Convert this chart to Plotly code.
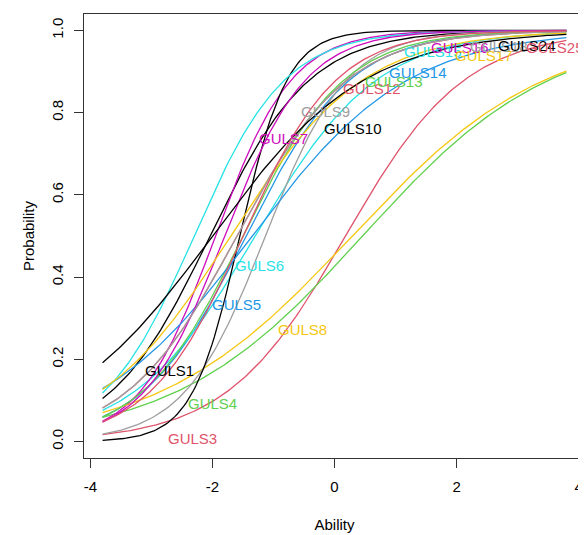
import numpy as np
import plotly.graph_objects as go

# Item names (in plotting order) and their colours (R 4 default palette, cycled)
items = ["GULS1", "GULS3", "GULS4", "GULS5", "GULS6", "GULS7", "GULS8", "GULS9",
         "GULS10", "GULS12", "GULS13", "GULS14", "GULS15", "GULS16", "GULS17",
         "GULS18", "GULS24", "GULS25"]
palette = ["#000000", "#DF536B", "#61D04F", "#2297E6", "#28E2E5", "#CD0BBC",
           "#F5C710", "#9E9E9E"]

# 2PL item parameters: discrimination and difficulty
discrimination = [1.22, 1.02, 0.65, 1.17, 1.00, 1.60, 0.63, 1.50,
                  2.57, 1.10, 1.20, 0.78, 1.34, 1.50, 0.92, 1.10, 0.80, 1.30]
difficulty = [-2.04, 0.18, 0.46, -1.45, -1.30, -1.95, 0.29, -1.13,
              -1.55, -1.60, -1.50, -1.35, -2.30, -1.80, -1.70, -1.60, -2.00, -1.50]

# Item label positions (ability, probability) as placed on the chart
label_x = [-2.71, -2.33, -2.00, -1.60, -1.23, -0.84, -0.53, -0.15,
           0.30, 0.62, 0.98, 1.36, 1.62, 2.06, 2.45, 2.70, 3.15, 3.62]
label_y = [0.174, 0.008, 0.093, 0.333, 0.429, 0.738, 0.272, 0.804,
           0.762, 0.858, 0.876, 0.897, 0.950, 0.958, 0.940, 0.960, 0.963, 0.958]

ability = np.linspace(-3.8, 3.8, 200)

FONT = "Liberation Sans, Arial, Helvetica, sans-serif"

fig = go.Figure()
for i, name in enumerate(items):
    col = palette[i % len(palette)]
    p = 1.0 / (1.0 + np.exp(-discrimination[i] * (ability - difficulty[i])))
    fig.add_trace(go.Scatter(x=ability, y=p, mode="lines", name=name,
                             line=dict(color=col, width=1.3),
                             hoverinfo="name"))
    fig.add_annotation(x=label_x[i], y=label_y[i], text=name, showarrow=False,
                       font=dict(family=FONT, size=15, color=col),
                       xanchor="center", yanchor="middle")

# page body has an 8px default margin, so the figure is sized to fill the rest
fig.update_layout(
    width=578, height=527,
    margin=dict(l=76, r=1, t=5.5, b=76.5, autoexpand=False),
    paper_bgcolor="white", plot_bgcolor="white",
    showlegend=False,
    font=dict(family=FONT, size=15, color="#000000"),
    xaxis=dict(range=[-4.104, 4.104], tickvals=[-4, -2, 0, 2, 4],
               ticktext=["-4", "-2", "0", "2", "4"], automargin=False,
               showgrid=False, zeroline=False, showline=True, mirror=True,
               linecolor="#333333", linewidth=1, ticks="outside", ticklen=9,
               tickcolor="#333333", tickfont=dict(size=15),
               ticklabelstandoff=6,
               title=dict(text="Ability", font=dict(size=15), standoff=25)),
    yaxis=dict(range=[-0.04, 1.04], tickvals=[0, 0.2, 0.4, 0.6, 0.8, 1.0],
               ticktext=["0.0", "0.2", "0.4", "0.6", "0.8", "1.0"],
               tickangle=-90, automargin=False,
               showgrid=False, zeroline=False, showline=True, mirror=True,
               linecolor="#333333", linewidth=1, ticks="outside", ticklen=9,
               tickcolor="#333333", tickfont=dict(size=15),
               ticklabelstandoff=5,
               title=dict(text="Probability", font=dict(size=15), standoff=10)),
)

fig.write_html("out.html")
